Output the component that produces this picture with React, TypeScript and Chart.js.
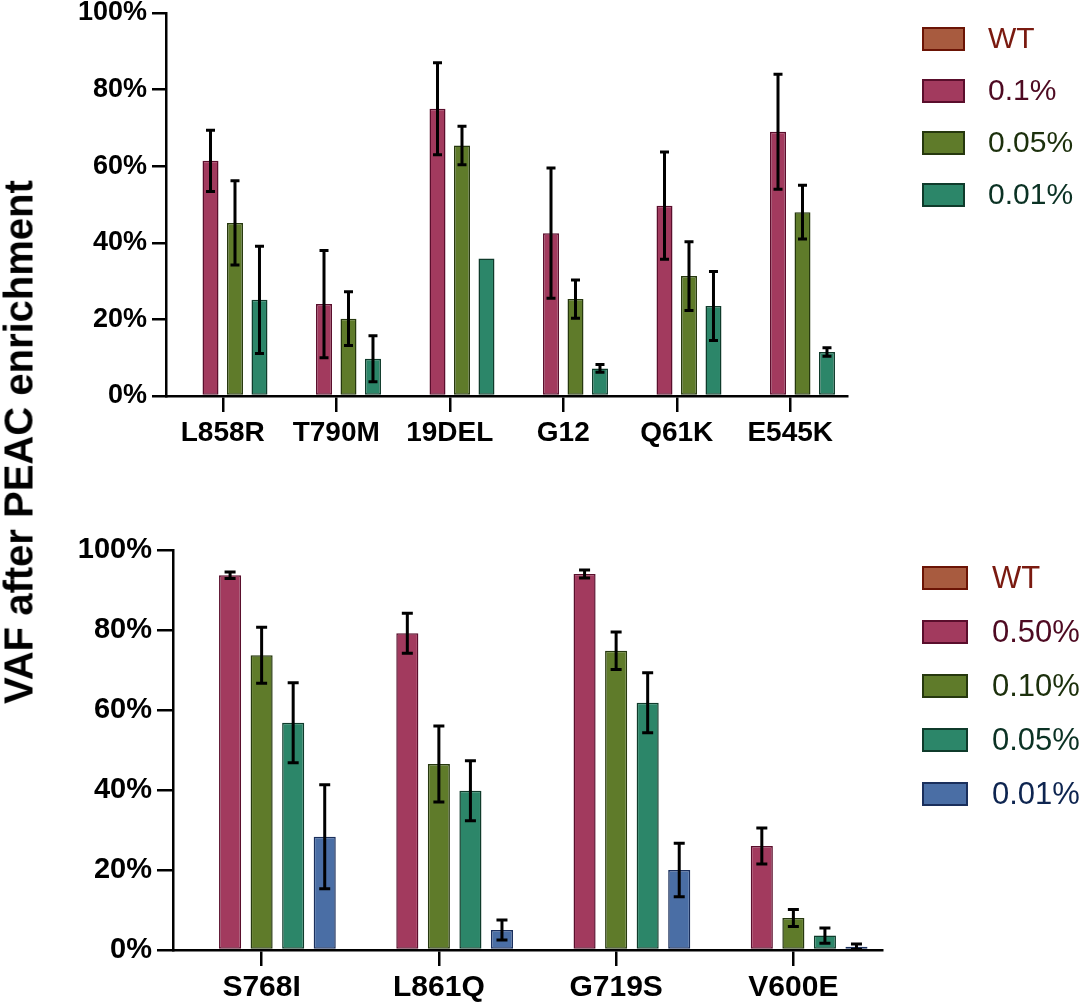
import React, { useEffect, useRef } from 'react';
import { Chart, registerables } from 'chart.js';

Chart.register(...registerables);

const FONT = "'Liberation Sans', Arial, Helvetica, sans-serif";
Chart.defaults.font.family = FONT;

// top panel
const topCategories = ['L858R', 'T790M', '19DEL', 'G12', 'Q61K', 'E545K'];
const topLabels = ['WT', '0.1%', '0.05%', '0.01%'];
const topWT: (number | null)[] = [null, null, null, null, null, null];
const top01 = [61.4, 24.0, 75.0, 42.5, 49.7, 69.0];
const top01Err = [8, 14, 12, 17, 14, 15];
const top005 = [45.2, 20.2, 65.4, 25.3, 31.3, 48.0];
const top005Err = [11, 7, 5, 5, 9, 7];
const top001 = [25.1, 9.7, 35.9, 7.2, 23.5, 11.5];
const top001Err: (number | null)[] = [14, 6, null, 1, 9, 1.1];

// bottom panel
const bottomCategories = ['S768I', 'L861Q', 'G719S', 'V600E'];
const bottomLabels = ['WT', '0.50%', '0.10%', '0.05%', '0.01%'];
const bottomWT: (number | null)[] = [null, null, null, null];
const bottom050 = [93.7, 79.2, 94.0, 26.0];
const bottom050Err = [0.8, 5, 1, 4.5];
const bottom010 = [73.7, 46.5, 74.8, 8.0];
const bottom010Err = [7, 9.5, 4.7, 2.1];
const bottom005 = [56.8, 39.8, 61.8, 3.6];
const bottom005Err = [10, 7.5, 7.5, 1.9];
const bottom001 = [28.3, 5.0, 20.0, 0.8];
const bottom001Err = [13, 2.5, 6.7, 0.7];

const yTicks = [0, 20, 40, 60, 80, 100];

const STYLE = {
  wt: { fill: '#A85B3F', border: '#6B1405', text: '#7A1A10' },
  red: { fill: '#A23A5E', border: '#5A0E2C', text: '#4E0A22' },
  green: { fill: '#5F7B2A', border: '#26380E', text: '#1C300C' },
  teal: { fill: '#2C8669', border: '#0F3B2B', text: '#0B3224' },
  blue: { fill: '#4A6EA5', border: '#1A2F5C', text: '#0E2550' },
};

const errorBarPlugin = {
  id: 'errorBars',
  afterDatasetsDraw(chart: any, _args: any, opts: any) {
    const { ctx } = chart;
    const yScale = chart.scales.y;
    chart.data.datasets.forEach((ds: any, i: number) => {
      const errs = ds.errors;
      if (!errs) return;
      const meta = chart.getDatasetMeta(i);
      meta.data.forEach((bar: any, j: number) => {
        const v = ds.data[j];
        const e = errs[j];
        if (v == null || e == null) return;
        const x = bar.x;
        const yTop = yScale.getPixelForValue(v + e);
        const yBot = yScale.getPixelForValue(Math.max(0, v - e));
        const cap = opts.cap;
        ctx.save();
        ctx.strokeStyle = '#000';
        ctx.lineWidth = opts.lineWidth;
        ctx.beginPath();
        ctx.moveTo(x, yTop);
        ctx.lineTo(x, yBot);
        ctx.moveTo(x - cap, yTop);
        ctx.lineTo(x + cap, yTop);
        ctx.moveTo(x - cap, yBot);
        ctx.lineTo(x + cap, yBot);
        ctx.stroke();
        ctx.restore();
      });
    });
  },
};

const sideLegendPlugin = {
  id: 'sideLegend',
  afterDraw(chart: any, _args: any, opts: any) {
    const { ctx } = chart;
    ctx.save();
    ctx.font = `${opts.fontSize}px ${FONT}`;
    ctx.textBaseline = 'middle';
    chart.data.datasets.forEach((ds: any, i: number) => {
      const y = opts.y + i * opts.gap;
      ctx.fillStyle = ds.backgroundColor;
      ctx.fillRect(opts.x, y, opts.boxW, opts.boxH);
      ctx.strokeStyle = ds.borderColor;
      ctx.lineWidth = 2;
      ctx.strokeRect(opts.x, y, opts.boxW, opts.boxH);
      ctx.fillStyle = ds.legendColor;
      ctx.fillText(ds.label, opts.x + opts.textOffset, y + opts.boxH / 2 + 1);
    });
    ctx.restore();
  },
};

function makeDataset(label: string, data: (number | null)[], errors: (number | null)[] | null, s: any) {
  return {
    label,
    data,
    errors,
    backgroundColor: s.fill,
    borderColor: s.border,
    legendColor: s.text,
    borderWidth: 1.5,
    borderSkipped: false,
  };
}

interface PanelProps {
  categories: string[];
  datasets: any[];
  top: number;
  height: number;
  padding: { left: number; right: number; top: number; bottom: number };
  xHeight: number;
  catPct: number;
  barPct: number;
  cap: number;
  legend: any;
  labelPad: number;
  xFont: number;
  yFont: number;
  yTickLen: number;
}

const Panel: React.FC<PanelProps> = (p) => {
  const ref = useRef<HTMLCanvasElement>(null);

  useEffect(() => {
    if (!ref.current) return;
    const chart = new Chart(ref.current, {
      type: 'bar',
      data: { labels: p.categories, datasets: p.datasets },
      plugins: [errorBarPlugin, sideLegendPlugin],
      options: {
        animation: false,
        responsive: true,
        maintainAspectRatio: false,
        layout: { padding: p.padding },
        datasets: {
          bar: { categoryPercentage: p.catPct, barPercentage: p.barPct },
        },
        scales: {
          x: {
            offset: true,
            grid: {
              offset: false,
              drawOnChartArea: false,
              drawTicks: true,
              tickLength: 16,
              color: '#000',
              lineWidth: 2.5,
            },
            border: { display: true, color: '#000', width: 2.5 },
            ticks: {
              color: '#000',
              padding: p.labelPad,
              maxRotation: 0,
              font: { size: p.xFont, weight: 'bold', family: FONT },
            },
            afterFit: (scale: any) => {
              scale.height = p.xHeight;
              scale.paddingLeft = 0;
              scale.paddingRight = 0;
            },
          },
          y: {
            min: 0,
            max: 100,
            afterBuildTicks: (scale: any) => {
              scale.ticks = yTicks.map((v) => ({ value: v }));
            },
            grid: {
              drawOnChartArea: false,
              drawTicks: true,
              tickLength: p.yTickLen,
              color: '#000',
              lineWidth: 2.5,
            },
            border: { display: true, color: '#000', width: 2.5 },
            ticks: {
              color: '#000',
              padding: 5,
              font: { size: p.yFont, weight: 'bold', family: FONT },
              callback: (v: any) => `${v}%`,
            },
            afterFit: (scale: any) => {
              scale.width = 100;
              scale.paddingTop = 0;
              scale.paddingBottom = 0;
            },
          },
        },
        plugins: {
          legend: { display: false },
          tooltip: { enabled: false },
          errorBars: { cap: p.cap, lineWidth: 3 },
          sideLegend: p.legend,
        } as any,
      },
    });
    return () => chart.destroy();
  }, []);

  return (
    <div style={{ position: 'absolute', left: 0, top: p.top, width: 1084, height: p.height }}>
      <canvas ref={ref} />
    </div>
  );
};

export default function App() {
  const topDatasets = [
    makeDataset(topLabels[0], topWT, null, STYLE.wt),
    makeDataset(topLabels[1], top01, top01Err, STYLE.red),
    makeDataset(topLabels[2], top005, top005Err, STYLE.green),
    makeDataset(topLabels[3], top001, top001Err, STYLE.teal),
  ];
  const bottomDatasets = [
    makeDataset(bottomLabels[0], bottomWT, null, STYLE.wt),
    makeDataset(bottomLabels[1], bottom050, bottom050Err, STYLE.red),
    makeDataset(bottomLabels[2], bottom010, bottom010Err, STYLE.green),
    makeDataset(bottomLabels[3], bottom005, bottom005Err, STYLE.teal),
    makeDataset(bottomLabels[4], bottom001, bottom001Err, STYLE.blue),
  ];

  return (
    <div
      style={{
        position: 'fixed',
        left: 0,
        top: 0,
        width: 1084,
        height: 1002,
        background: '#fff',
        fontFamily: FONT,
        overflow: 'hidden',
      }}
    >
      <Panel
        categories={topCategories}
        datasets={topDatasets}
        top={0}
        height={470}
        padding={{ left: 66, right: 237, top: 13, bottom: 14 }}
        xHeight={60}
        catPct={0.863}
        barPct={0.653}
        cap={4.5}
        labelPad={4}
        xFont={28}
        yFont={27}
        yTickLen={14}
        legend={{ x: 923, y: 28, gap: 52, boxW: 41, boxH: 22, textOffset: 65, fontSize: 30 }}
      />
      <Panel
        categories={bottomCategories}
        datasets={bottomDatasets}
        top={470}
        height={560}
        padding={{ left: 73, right: 202, top: 80, bottom: 28 }}
        xHeight={52}
        catPct={0.89}
        barPct={0.7}
        cap={5.5}
        labelPad={4}
        xFont={30}
        yFont={29}
        yTickLen={16}
        legend={{ x: 923, y: 97, gap: 54, boxW: 44, boxH: 22, textOffset: 69, fontSize: 31 }}
      />
      <div
        style={{
          position: 'absolute',
          left: 19,
          top: 442,
          transform: 'translate(-50%, -50%) rotate(-90deg)',
          whiteSpace: 'nowrap',
          fontWeight: 'bold',
          fontSize: 40,
          color: '#000',
        }}
      >
        VAF after PEAC enrichment
      </div>
    </div>
  );
}
